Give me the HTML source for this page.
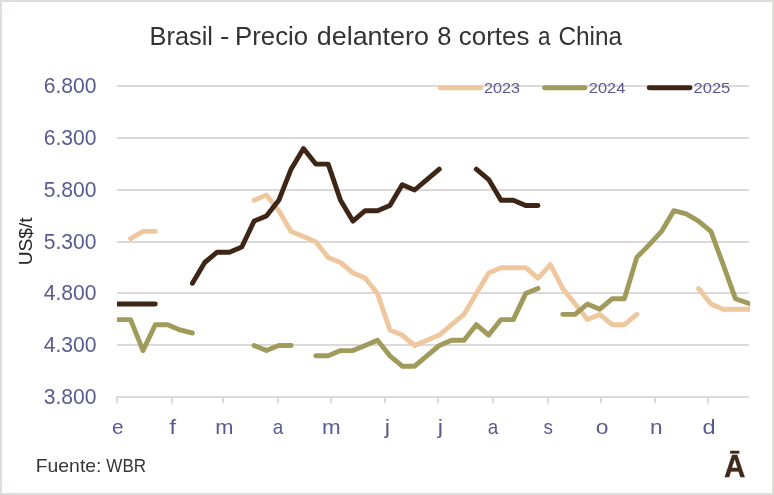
<!DOCTYPE html>
<html lang="es"><head><meta charset="utf-8"><title>Brasil - Precio delantero 8 cortes a China</title>
<style>
html,body{margin:0;padding:0;background:#fff;}
body{width:774px;height:495px;overflow:hidden;}
svg{display:block;font-family:"Liberation Sans",sans-serif;}
</style></head><body>
<svg width="774" height="495" viewBox="0 0 774 495">
<rect x="0" y="0" width="774" height="495" fill="#fff"/>
<rect x="1" y="1" width="772" height="493" fill="none" stroke="#E0DCDC" stroke-width="2"/>
<defs><clipPath id="plot"><rect x="117" y="70" width="633" height="340"/></clipPath></defs>

<g stroke="#DDD9DA" stroke-width="2" fill="none">
<line x1="117" y1="86" x2="749" y2="86"/>
<line x1="117" y1="138" x2="749" y2="138"/>
<line x1="117" y1="190" x2="749" y2="190"/>
<line x1="117" y1="242" x2="749" y2="242"/>
<line x1="117" y1="293" x2="749" y2="293"/>
<line x1="117" y1="345" x2="749" y2="345"/>
<line x1="116" y1="397" x2="749" y2="397"/>
<line x1="117" y1="397" x2="117" y2="403.5"/>
<line x1="172" y1="397" x2="172" y2="403.5"/>
<line x1="223" y1="397" x2="223" y2="403.5"/>
<line x1="278" y1="397" x2="278" y2="403.5"/>
<line x1="331" y1="397" x2="331" y2="403.5"/>
<line x1="385" y1="397" x2="385" y2="403.5"/>
<line x1="438" y1="397" x2="438" y2="403.5"/>
<line x1="493" y1="397" x2="493" y2="403.5"/>
<line x1="548" y1="397" x2="548" y2="403.5"/>
<line x1="601" y1="397" x2="601" y2="403.5"/>
<line x1="655" y1="397" x2="655" y2="403.5"/>
<line x1="708" y1="397" x2="708" y2="403.5"/>
</g>
<text y="44.8" font-size="25" fill="#333333"><tspan x="149.62" textLength="63.37" lengthAdjust="spacingAndGlyphs">Brasil</tspan> <tspan x="219.90" textLength="9.41" lengthAdjust="spacingAndGlyphs">-</tspan> <tspan x="235.09" textLength="72.99" lengthAdjust="spacingAndGlyphs">Precio</tspan> <tspan x="316.77" textLength="112.06" lengthAdjust="spacingAndGlyphs">delantero</tspan> <tspan x="437.29" textLength="14.22" lengthAdjust="spacingAndGlyphs">8</tspan> <tspan x="458.80" textLength="70.64" lengthAdjust="spacingAndGlyphs">cortes</tspan> <tspan x="538.07" textLength="12.51" lengthAdjust="spacingAndGlyphs">a</tspan> <tspan x="558.46" textLength="63.64" lengthAdjust="spacingAndGlyphs">China</tspan></text>
<text x="43.72" y="92.9" font-size="21.4" fill="#5A5A93" textLength="52.91" lengthAdjust="spacingAndGlyphs">6.800</text>
<text x="43.72" y="144.9" font-size="21.4" fill="#5A5A93" textLength="52.91" lengthAdjust="spacingAndGlyphs">6.300</text>
<text x="43.72" y="196.9" font-size="21.4" fill="#5A5A93" textLength="52.91" lengthAdjust="spacingAndGlyphs">5.800</text>
<text x="43.72" y="248.9" font-size="21.4" fill="#5A5A93" textLength="52.91" lengthAdjust="spacingAndGlyphs">5.300</text>
<text x="43.72" y="299.9" font-size="21.4" fill="#5A5A93" textLength="52.91" lengthAdjust="spacingAndGlyphs">4.800</text>
<text x="43.72" y="351.9" font-size="21.4" fill="#5A5A93" textLength="52.91" lengthAdjust="spacingAndGlyphs">4.300</text>
<text x="43.72" y="403.9" font-size="21.4" fill="#5A5A93" textLength="52.91" lengthAdjust="spacingAndGlyphs">3.800</text>
<text x="111.91" y="434" font-size="21" fill="#5A5A93" textLength="11.62" lengthAdjust="spacingAndGlyphs">e</text>
<text x="169.57" y="434" font-size="21" fill="#5A5A93" textLength="6.59" lengthAdjust="spacingAndGlyphs">f</text>
<text x="215.35" y="434" font-size="21" fill="#5A5A93" textLength="18.19" lengthAdjust="spacingAndGlyphs">m</text>
<text x="272.74" y="434" font-size="21" fill="#5A5A93" textLength="10.51" lengthAdjust="spacingAndGlyphs">a</text>
<text x="322.01" y="434" font-size="21" fill="#5A5A93" textLength="18.66" lengthAdjust="spacingAndGlyphs">m</text>
<text x="384.75" y="434" font-size="21" fill="#5A5A93" textLength="5.27" lengthAdjust="spacingAndGlyphs">j</text>
<text x="437.75" y="434" font-size="21" fill="#5A5A93" textLength="5.27" lengthAdjust="spacingAndGlyphs">j</text>
<text x="487.74" y="434" font-size="21" fill="#5A5A93" textLength="10.51" lengthAdjust="spacingAndGlyphs">a</text>
<text x="543.45" y="434" font-size="21" fill="#5A5A93" textLength="9.45" lengthAdjust="spacingAndGlyphs">s</text>
<text x="595.74" y="434" font-size="21" fill="#5A5A93" textLength="12.72" lengthAdjust="spacingAndGlyphs">o</text>
<text x="649.90" y="434" font-size="21" fill="#5A5A93" textLength="12.57" lengthAdjust="spacingAndGlyphs">n</text>
<text x="702.61" y="434" font-size="21" fill="#5A5A93" textLength="13.11" lengthAdjust="spacingAndGlyphs">d</text>
<text transform="translate(31.7 263.9) rotate(-90)" x="-1.48" y="0" font-size="18.9" fill="#262626" textLength="48.02" lengthAdjust="spacingAndGlyphs">US$/t</text>
<text y="471.8" font-size="18.5" fill="#363636"><tspan x="35.71" textLength="65.76" lengthAdjust="spacingAndGlyphs">Fuente:</tspan> <tspan x="106.33" textLength="39.77" lengthAdjust="spacingAndGlyphs">WBR</tspan></text>
<text x="723.91" y="476.8" font-size="32.0" font-weight="bold" fill="#40281A" textLength="21.42" lengthAdjust="spacingAndGlyphs" stroke="#40281A" stroke-width="0.3" stroke-linejoin="miter">Ā</text>
<g clip-path="url(#plot)" fill="none" stroke-width="4.9" stroke-linecap="round" stroke-linejoin="round">
<path stroke="#EFC79F" d="M130.6 238.7 L143.0 231.4 L155.3 231.4 M254.1 200.3 L266.4 195.1 L278.8 210.7 L291.1 231.4 L303.5 236.6 L315.8 241.8 L328.2 257.4 L340.5 262.5 L352.9 272.9 L365.2 278.1 L377.5 293.6 L389.9 329.9 L402.2 335.1 L414.6 345.5 L426.9 340.3 L439.3 335.1 L451.6 324.7 L464.0 314.4 L476.3 293.6 L488.7 272.9 L501.0 267.7 L513.3 267.7 L525.7 267.7 L538.0 278.1 L550.4 264.6 L562.7 288.4 L575.1 304.0 L587.4 319.6 L599.8 314.4 L612.1 324.7 L624.4 324.7 L636.8 314.4 M698.5 288.4 L710.9 304.0 L723.2 309.2 L735.5 309.2 L750.5 309.2"/>
<path stroke="#A09B5A" d="M117.0 319.6 L130.6 319.6 L143.0 350.6 L155.3 324.7 L167.7 324.7 L180.0 329.9 L192.4 333.0 M254.1 345.5 L266.4 350.6 L278.8 345.5 L291.1 345.5 M315.8 355.8 L328.2 355.8 L340.5 350.6 L352.9 350.6 L365.2 345.5 L377.5 340.3 L389.9 355.8 L402.2 366.2 L414.6 366.2 L426.9 355.8 L439.3 345.5 L451.6 340.3 L464.0 340.3 L476.3 324.7 L488.7 335.1 L501.0 319.6 L513.3 319.6 L525.7 293.6 L538.0 288.4 M562.7 314.4 L575.1 314.4 L587.4 304.0 L599.8 309.2 L612.1 298.8 L624.4 298.8 L636.8 257.4 L649.1 244.9 L661.5 231.4 L673.8 210.7 L686.2 213.8 L698.5 221.1 L710.9 231.4 L723.2 264.6 L735.5 298.8 L750.5 304.0"/>
<path stroke="#3E2616" d="M117.0 304.0 L130.6 304.0 L143.0 304.0 L155.3 304.0 M192.4 283.3 L204.7 262.5 L217.1 252.2 L229.4 252.2 L241.8 247.0 L254.1 221.1 L266.4 215.9 L278.8 200.3 L291.1 169.2 L303.5 148.5 L315.8 164.1 L328.2 164.1 L340.5 200.3 L352.9 221.1 L365.2 210.7 L377.5 210.7 L389.9 205.5 L402.2 184.8 L414.6 190.0 L426.9 179.6 L439.3 169.2 M476.3 169.2 L488.7 179.6 L501.0 200.3 L513.3 200.3 L525.7 205.5 L538.0 205.5"/>
</g>
<g fill="none" stroke-width="4.9" stroke-linecap="round">
<line x1="440.2" y1="87.7" x2="480.8" y2="87.7" stroke="#EFC79F"/>
<line x1="544.5" y1="87.7" x2="585" y2="87.7" stroke="#A09B5A"/>
<line x1="649.2" y1="87.7" x2="690" y2="87.7" stroke="#3E2616"/>
</g>
<text x="483.99" y="92.7" font-size="15.4" fill="#5A5A93" textLength="36.03" lengthAdjust="spacingAndGlyphs">2023</text>
<text x="588.77" y="92.7" font-size="15.4" fill="#5A5A93" textLength="36.51" lengthAdjust="spacingAndGlyphs">2024</text>
<text x="693.47" y="92.7" font-size="15.4" fill="#5A5A93" textLength="36.83" lengthAdjust="spacingAndGlyphs">2025</text>
</svg></body></html>
